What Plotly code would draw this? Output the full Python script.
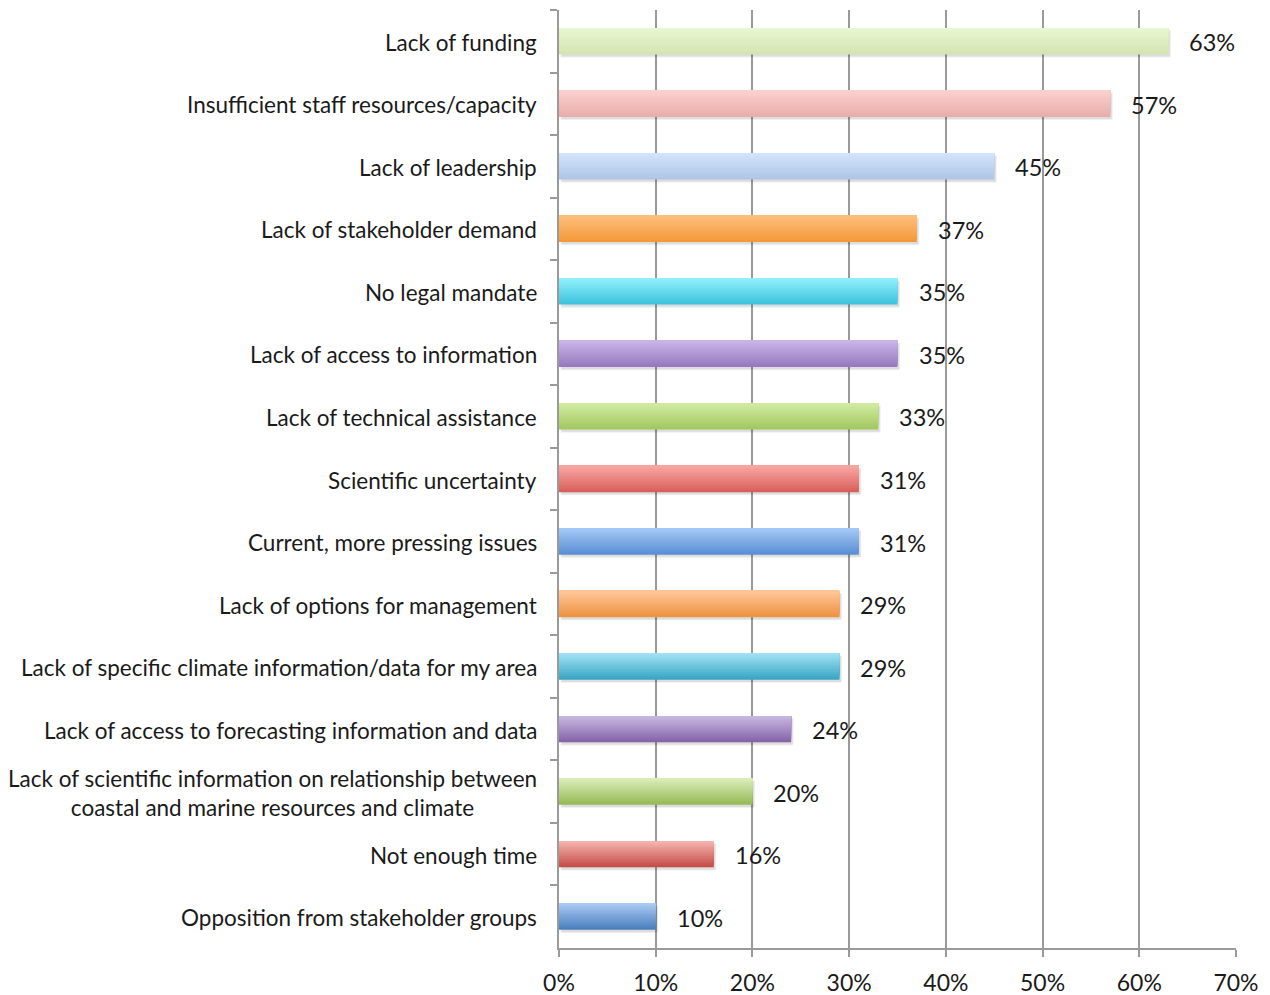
import plotly.graph_objects as go

# Survey responses: barriers to addressing climate change
categories = [
    "Lack of funding",
    "Insufficient staff resources/capacity",
    "Lack of leadership",
    "Lack of stakeholder demand",
    "No legal mandate",
    "Lack of access to information",
    "Lack of technical assistance",
    "Scientific uncertainty",
    "Current, more pressing issues",
    "Lack of options for management",
    "Lack of specific climate information/data for my area",
    "Lack of access to forecasting information and data",
    "Lack of scientific information on relationship between<br>coastal and marine resources and climate",
    "Not enough time",
    "Opposition from stakeholder groups",
]
values = [63, 57, 45, 37, 35, 35, 33, 31, 31, 29, 29, 24, 20, 16, 10]

# Gradient colours for each bar: (top, bottom)
bar_colors = [
    ("#e8f6d2", "#d3e5b2"),
    ("#fbcfcd", "#e8aeab"),
    ("#d2e3fb", "#b0c6e6"),
    ("#fdbe7c", "#f4993a"),
    ("#90eefb", "#3ec4de"),
    ("#c8b4e6", "#977abf"),
    ("#d0eba0", "#a3c761"),
    ("#f8a6a2", "#d8605b"),
    ("#a3c8f5", "#5a8fd4"),
    ("#fec697", "#ee9243"),
    ("#9ee0f2", "#3aa6c4"),
    ("#c7b6e0", "#8564a8"),
    ("#d9edb6", "#97b956"),
    ("#f5b3af", "#c54d47"),
    ("#a9c8f2", "#4a7fbe"),
]

tick_labels = ["0%", "10%", "20%", "30%", "40%", "50%", "60%", "70%"]
tick_vals = [0, 10, 20, 30, 40, 50, 60, 70]

FONT = "Lato, 'Open Sans', sans-serif"
TEXT_COLOR = "#1a1a1a"
BAR_W = 0.42
N_LAYERS = 14


def hex_to_rgb(h):
    h = h.lstrip("#")
    return tuple(int(h[i:i + 2], 16) for i in (0, 2, 4))


def mix(c1, c2, t):
    a, b = hex_to_rgb(c1), hex_to_rgb(c2)
    return "rgb(%d,%d,%d)" % tuple(round(a[i] + (b[i] - a[i]) * t) for i in range(3))


fig = go.Figure()

# soft drop shadow under each bar
for k, alpha in enumerate([0.06, 0.08]):
    fig.add_trace(go.Bar(
        y=categories, x=values, orientation="h", base=0.15 + 0.1 * k,
        width=BAR_W, offset=-BAR_W / 2 + 0.05 - 0.015 * k,
        marker=dict(color=f"rgba(0,0,0,{alpha})", line_width=0),
        hoverinfo="skip", showlegend=False,
    ))

# vertical gradient: full bar in the bottom colour, then progressively
# shorter (from the top) layers in lighter colours
for k in range(N_LAYERS):
    t = 1 - k / (N_LAYERS - 1)
    frac = (N_LAYERS - k) / N_LAYERS
    fig.add_trace(go.Bar(
        y=categories, x=values, orientation="h",
        width=BAR_W * frac, offset=-BAR_W / 2,
        marker=dict(color=[mix(top, bot, t) for top, bot in bar_colors], line_width=0),
        hoverinfo="skip", showlegend=False,
    ))

# value labels
for cat, v in zip(categories, values):
    fig.add_annotation(
        x=v, y=cat, text=f"{v}%", showarrow=False,
        xanchor="left", xshift=19, yshift=-1,
        font=dict(family=FONT, size=23.5, color=TEXT_COLOR),
    )

# category labels (centred multi-line text)
for cat in categories:
    fig.add_annotation(
        x=0, xref="paper", y=cat, text=cat, showarrow=False,
        xanchor="right", align="center", xshift=-20, yshift=-1,
        font=dict(family=FONT, size=22.5, color=TEXT_COLOR),
    )

fig.update_layout(
    width=1270, height=995,
    margin=dict(l=559, r=34, t=10, b=47),
    barmode="overlay",
    plot_bgcolor="white", paper_bgcolor="white",
    font=dict(family=FONT, color=TEXT_COLOR),
)

fig.update_xaxes(
    range=[0, 70], tickvals=tick_vals, ticktext=tick_labels,
    showgrid=True, gridcolor="#9a9a9a", gridwidth=2,
    showline=True, linecolor="#9a9a9a", linewidth=2,
    ticks="outside", ticklen=7, tickwidth=2, tickcolor="#9a9a9a",
    ticklabelstandoff=6, automargin=False,
    tickfont=dict(family=FONT, size=23, color=TEXT_COLOR),
    zeroline=False,
)

fig.update_yaxes(
    categoryorder="array", categoryarray=categories,
    autorange="reversed", showticklabels=False, automargin=False,
    showline=True, linecolor="#9a9a9a", linewidth=2,
    ticks="outside", ticklen=7, tickwidth=2, tickcolor="#9a9a9a",
    tickson="boundaries", showgrid=False,
)

fig.write_html("out.html")
